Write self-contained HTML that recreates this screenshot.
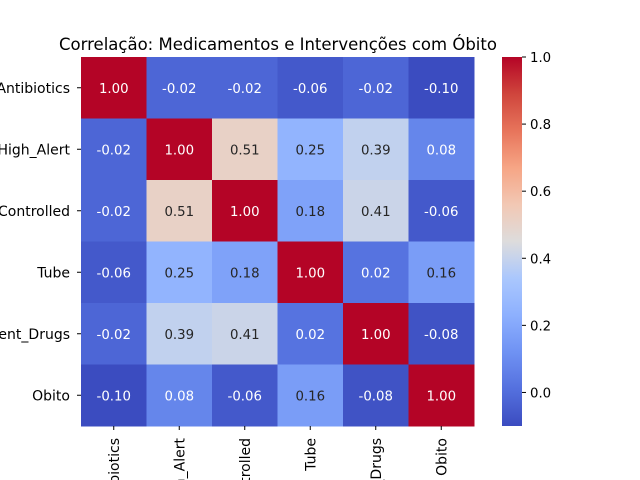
<!DOCTYPE html>
<html><head><meta charset="utf-8"><style>
body{margin:0;background:#fff;width:640px;height:480px;overflow:hidden;font-family:"Liberation Sans","DejaVu Sans",sans-serif}
svg{display:block;overflow:hidden}
text{font-family:"DejaVu Sans","Liberation Sans",sans-serif}
</style></head><body>
<svg id="chart" width="640" height="480" viewBox="0 0 640 480" xmlns="http://www.w3.org/2000/svg">
<defs><clipPath id="frame"><rect x="0" y="0" width="640" height="480"/></clipPath></defs>
<text x="278" y="50" font-size="16.5" text-anchor="middle">Correlação: Medicamentos e Intervenções com Óbito</text>
<g id="cells"></g><g id="labels" clip-path="url(#frame)"></g><g id="cbar"></g>
</svg>
<script>
const categories=["Antibiotics","High_Alert","Controlled","Tube","Frequent_Drugs","Obito"];
const row0=[1.00,-0.02,-0.02,-0.06,-0.02,-0.10];
const row1=[-0.02,1.00,0.51,0.25,0.39,0.08];
const row2=[-0.02,0.51,1.00,0.18,0.41,-0.06];
const row3=[-0.06,0.25,0.18,1.00,0.02,0.16];
const row4=[-0.02,0.39,0.41,0.02,1.00,-0.08];
const row5=[-0.10,0.08,-0.06,0.16,-0.08,1.00];
const matrix=[row0,row1,row2,row3,row4,row5];
const cbarTicks=[0.0,0.2,0.4,0.6,0.8,1.0];
const vmin=-0.10,vmax=1.0;
const L=81,T=57,W=393,H=369;
const NS="http://www.w3.org/2000/svg";
const stops=[[0,[59,76,192]],[0.1,[84,112,222]],[0.2,[111,146,243]],[0.3,[141,176,254]],[0.4,[170,199,253]],[0.5,[221,220,220]],[0.6,[242,200,180]],[0.7,[246,165,133]],[0.8,[231,116,91]],[0.9,[207,69,60]],[1,[180,4,38]]];
function cmap(t){t=Math.max(0,Math.min(1,t));for(let i=1;i<stops.length;i++){if(t<=stops[i][0]){const a=stops[i-1],b=stops[i];const f=(t-a[0])/(b[0]-a[0]);return a[1].map((v,k)=>Math.round(v+(b[1][k]-v)*f));}}return stops[stops.length-1][1];}
function norm(v){return (v-vmin)/(vmax-vmin);}
function lin(c){c/=255;return c<=0.03928?c/12.92:Math.pow((c+0.055)/1.055,2.4);}
function mk(tag,attrs,parent,txt){const e=document.createElementNS(NS,tag);for(const k in attrs)e.setAttribute(k,attrs[k]);if(txt!==undefined)e.textContent=txt;parent.appendChild(e);return e;}
const n=categories.length,cw=W/n,ch=H/n;
const xs=i=>L+i*cw, ys=i=>T+i*ch;
const cells=document.getElementById('cells'),labels=document.getElementById('labels'),cbar=document.getElementById('cbar');
matrix.forEach((row,r)=>row.forEach((v,c)=>{
  const col=cmap(norm(v));
  const rect=mk('rect',{x:xs(c),y:ys(r),width:cw+0.5,height:ch+0.5,fill:`rgb(${col})`},cells);
  
  
  const lum=0.2126*lin(col[0])+0.7152*lin(col[1])+0.0722*lin(col[2]);
  const t=mk('text',{x:xs(c)+cw/2,y:ys(r)+ch/2+5,'font-size':13.3,'text-anchor':'middle',fill:lum>0.3?'#262626':'#fff'},cells,v.toFixed(2));
  
  
}));
categories.forEach((c,i)=>{
  const y=ys(i)+ch/2;
  mk('line',{x1:L-4,x2:L,y1:y,y2:y,stroke:'#000'},labels);
  const t=mk('text',{x:L-11,y:y+5,'font-size':14,'text-anchor':'end'},labels,c);
  
  
  const x=xs(i)+cw/2;
  mk('line',{x1:x,x2:x,y1:T+H,y2:T+H+4},labels).setAttribute('stroke','#000');
  const tx=mk('text',{x:0,y:0,'font-size':14,'text-anchor':'end',transform:`translate(${x+5},${T+H+12}) rotate(-90)`},labels,c);
  
  
});
const cbL=502,cbW=20;
const defs=mk('defs',{},cbar);
const g=mk('linearGradient',{id:'cg',x1:0,y1:1,x2:0,y2:0},defs);
for(let i=0;i<=20;i++){const col=cmap(i/20);mk('stop',{offset:i/20,'stop-color':`rgb(${col})`},g);}
const cb=mk('rect',{x:cbL,y:T,width:cbW,height:H,fill:'url(#cg)'},cbar);


const cy=v=>T+H-(v-vmin)/(vmax-vmin)*H;
cbarTicks.forEach(v=>{
  const y=cy(v);
  mk('line',{x1:cbL+cbW,x2:cbL+cbW+4,y1:y,y2:y,stroke:'#000'},cbar);
  const t=mk('text',{x:cbL+cbW+8,y:y+5,'font-size':13.3},cbar,v.toFixed(1));
  
  
});
</script>
</body></html>
